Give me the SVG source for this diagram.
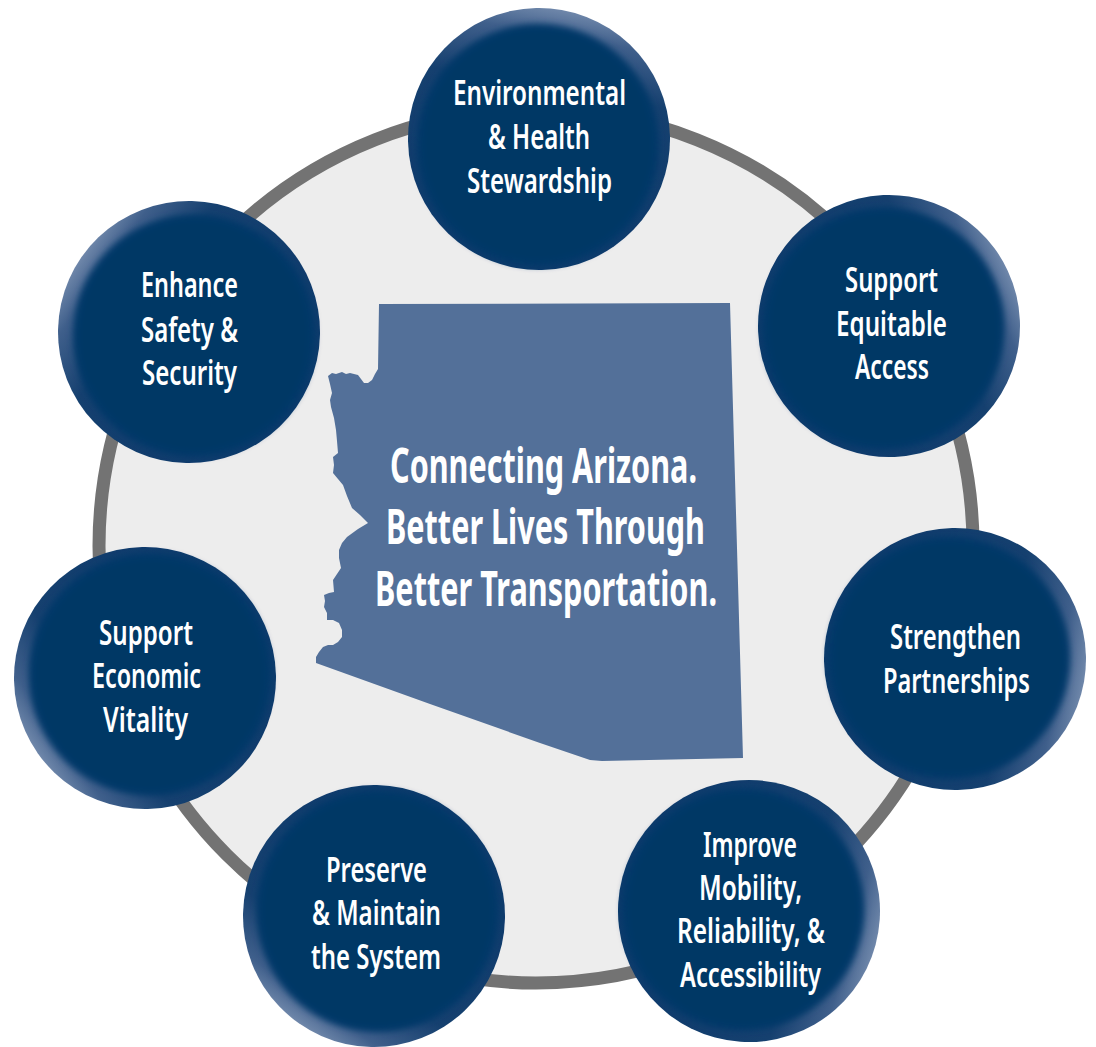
<svg xmlns="http://www.w3.org/2000/svg" xmlns:xlink="http://www.w3.org/1999/xlink" width="1096" height="1047" viewBox="0 0 1096 1047">
<style>
text{font-family:"Noto Sans","Open Sans","Liberation Sans",sans-serif;fill:#fff;}
.n{font-size:34px;font-weight:600;}
.c{font-size:48px;font-weight:700;}
</style>
<defs>
<linearGradient id="rim" x1="0" y1="0" x2="0" y2="1">
<stop offset="0" stop-color="#6f87aa"/>
<stop offset="0.1" stop-color="#3f5f8b"/>
<stop offset="0.3" stop-color="#15406f"/>
<stop offset="1" stop-color="#0c3a6b"/>
</linearGradient>
<radialGradient id="face" cx="0.5" cy="0.5" r="0.5">
<stop offset="0" stop-color="#013865"/>
<stop offset="0.92" stop-color="#013865"/>
<stop offset="1" stop-color="#06396a"/>
</radialGradient>
<filter id="soft" x="-10%" y="-10%" width="120%" height="120%"><feGaussianBlur stdDeviation="3"/></filter>
<g id="disc">
<circle r="131" fill="url(#rim)"/>
<circle cy="6" r="121" fill="url(#face)" filter="url(#soft)"/>
</g>
</defs>
<rect width="1096" height="1047" fill="#fff"/>
<g id="connectors">
<circle cx="536" cy="546" r="437" fill="#ededed" stroke="#737373" stroke-width="13"/>
</g>
<g id="arizona">
<polygon fill="#537099" points="379,304 378,369 375,374 372,380 368,383 364,383 361,379 358,375 354,374 350,373 346,374 342,372 336,374 332,373 328,376 330,384 332,393 330,400 331,407 334,418 336,430 337,441 338,453 333,457 334,465 333,473 338,479 343,485 347,496 352,508 360,515 368,523 358,529 347,537 342,543 339,550 339,558 341,568 337,574 333,580 334,592 329,593 324,595 325,601 324,607 327,613 327,620 333,620 339,623 342,630 342,637 338,642 333,645 328,645 323,647 319,652 316,657 316,663 430,704 540,743 590,760 602,761 743,758 730,303"/>
<text class="c" x="390" y="483" textLength="307" lengthAdjust="spacingAndGlyphs">Connecting Arizona.</text>
<text class="c" x="386" y="544" textLength="319" lengthAdjust="spacingAndGlyphs">Better Lives Through</text>
<text class="c" x="375" y="606" textLength="342" lengthAdjust="spacingAndGlyphs">Better Transportation.</text>
</g>
<g id="node-environmental">
<use xlink:href="#disc" href="#disc" transform="translate(539,139) rotate(10)"/>
<text class="n" x="453" y="105" textLength="173" lengthAdjust="spacingAndGlyphs">Environmental</text>
<text class="n" x="488" y="149" textLength="102" lengthAdjust="spacingAndGlyphs">&amp; Health</text>
<text class="n" x="467" y="193" textLength="145" lengthAdjust="spacingAndGlyphs">Stewardship</text>
</g>
<g id="node-equitable">
<use xlink:href="#disc" href="#disc" transform="translate(889,326) rotate(65)"/>
<text class="n" x="845" y="292" textLength="93" lengthAdjust="spacingAndGlyphs">Support</text>
<text class="n" x="836" y="336" textLength="111" lengthAdjust="spacingAndGlyphs">Equitable</text>
<text class="n" x="855" y="379" textLength="74" lengthAdjust="spacingAndGlyphs">Access</text>
</g>
<g id="node-partnerships">
<use xlink:href="#disc" href="#disc" transform="translate(955,659) rotate(100)"/>
<text class="n" x="890" y="649" textLength="131" lengthAdjust="spacingAndGlyphs">Strengthen</text>
<text class="n" x="883" y="693" textLength="147" lengthAdjust="spacingAndGlyphs">Partnerships</text>
</g>
<g id="node-mobility">
<use xlink:href="#disc" href="#disc" transform="translate(749,911) rotate(105)"/>
<text class="n" x="703" y="857" textLength="94" lengthAdjust="spacingAndGlyphs">Improve</text>
<text class="n" x="699" y="900" textLength="103" lengthAdjust="spacingAndGlyphs">Mobility,</text>
<text class="n" x="677" y="943" textLength="148" lengthAdjust="spacingAndGlyphs">Reliability, &amp;</text>
<text class="n" x="680" y="987" textLength="141" lengthAdjust="spacingAndGlyphs">Accessibility</text>
</g>
<g id="node-preserve">
<use xlink:href="#disc" href="#disc" transform="translate(374,916) rotate(215)"/>
<text class="n" x="326" y="882" textLength="101" lengthAdjust="spacingAndGlyphs">Preserve</text>
<text class="n" x="312" y="925" textLength="129" lengthAdjust="spacingAndGlyphs">&amp; Maintain</text>
<text class="n" x="311" y="969" textLength="130" lengthAdjust="spacingAndGlyphs">the System</text>
</g>
<g id="node-economic">
<use xlink:href="#disc" href="#disc" transform="translate(145,678) rotate(235)"/>
<text class="n" x="99" y="645" textLength="94" lengthAdjust="spacingAndGlyphs">Support</text>
<text class="n" x="92" y="688" textLength="109" lengthAdjust="spacingAndGlyphs">Economic</text>
<text class="n" x="103" y="732" textLength="85" lengthAdjust="spacingAndGlyphs">Vitality</text>
</g>
<g id="node-safety">
<use xlink:href="#disc" href="#disc" transform="translate(189,332) rotate(305)"/>
<text class="n" x="141" y="297" textLength="97" lengthAdjust="spacingAndGlyphs">Enhance</text>
<text class="n" x="141" y="342" textLength="97" lengthAdjust="spacingAndGlyphs">Safety &amp;</text>
<text class="n" x="142" y="385" textLength="95" lengthAdjust="spacingAndGlyphs">Security</text>
</g>
</svg>
